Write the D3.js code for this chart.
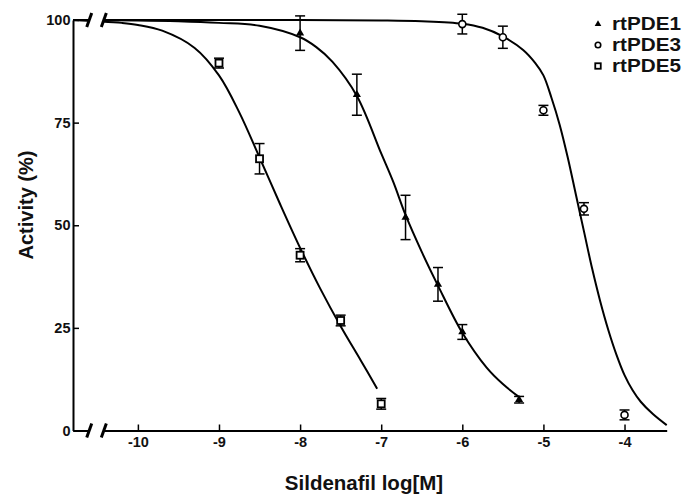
<!DOCTYPE html>
<html>
<head>
<meta charset="utf-8">
<script src="https://cdn.jsdelivr.net/npm/d3@7"></script>
<style>
  body { margin: 0; background: #fff; }
  text { font-family: "Liberation Sans", Arial, sans-serif; font-weight: bold; }
</style>
</head>
<body>
<div id="chart"></div>
<script>
// Axis ticks
const xTicks = [-10, -9, -8, -7, -6, -5, -4];
const yTicks = [0, 25, 50, 75, 100];
const seriesNames = ["rtPDE1", "rtPDE3", "rtPDE5"];

// Measured points (log dose, activity %, error)
const pde1Dose = [-8, -7.3, -6.7, -6.3, -6, -5.3];
const pde1Act = [96.8, 81.8, 51.9, 35.6, 24, 7.5];
const pde1Err = [4.2, 5, 5.4, 4.1, 1.8, 0.8];

const pde3Dose = [-6, -5.5, -5, -4.5, -4];
const pde3Act = [99, 95.8, 78, 54, 3.8];
const pde3Err = [2.4, 2.7, 1.2, 1.5, 1.2];

const pde5Dose = [-9, -8.5, -8, -7.5, -7];
const pde5Act = [89.5, 66.2, 42.7, 26.8, 6.5];
const pde5Err = [1.2, 3.7, 1.6, 1.3, 1.3];

// Fitted curves
const pde1FitDose = [-10.8, -10, -9.5, -9, -8.5, -8, -7.8, -7.6, -7.3, -7.0, -6.85, -6.7, -6.5, -6.3, -6.0, -5.7, -5.5, -5.29];
const pde1FitAct = [100, 99.9, 99.7, 99.3, 98.6, 95.8, 93.4, 89.8, 81.5, 67.5, 60.5, 52.5, 43.5, 35.3, 23.8, 15.3, 11.3, 8.0];

const pde3FitDose = [-10.8, -8, -7, -6.5, -6, -5.75, -5.5, -5.25, -5.1, -5.0, -4.9, -4.8, -4.7, -4.6, -4.5, -4.4, -4.3, -4.2, -4.1, -4.0, -3.9, -3.8, -3.65, -3.48];
const pde3FitAct = [100, 100, 99.9, 99.7, 99.1, 98.1, 96.0, 92.7, 89.5, 86.5, 81, 74.5, 66.5, 57.5, 48.5, 39.5, 31.5, 24.5, 18.5, 13.5, 9.8, 7.0, 4.0, 1.3];

const pde5FitDose = [-10.8, -10.5, -10.2, -10, -9.7, -9.3, -9.0, -8.75, -8.5, -8.25, -8.0, -7.75, -7.5, -7.25, -7.05];
const pde5FitAct = [100, 99.7, 99.3, 98.8, 97.4, 93.2, 86.5, 77.5, 66.5, 55.3, 44.5, 34.5, 25.4, 17.0, 10.2];

// Axis break position (log dose)
const breakDose = [-10.6, -10.42];

const width = 696, height = 496;

const svg = d3.select("#chart")
    .append("svg")
    .attr("width", width)
    .attr("height", height);

const x = d3.scaleLinear().domain([-10.8, -3.48]).range([73, 666.7]);
const y = d3.scaleLinear().domain([0, 100]).range([430.5, 20]);

// Fitted curves
const line = d3.line()
    .x(d => x(d[0]))
    .y(d => y(d[1]))
    .curve(d3.curveCatmullRom.alpha(0.5));

const fits = [
    d3.zip(pde1FitDose, pde1FitAct),
    d3.zip(pde3FitDose, pde3FitAct),
    d3.zip(pde5FitDose, pde5FitAct)
];

svg.selectAll("path.fit")
    .data(fits)
    .enter()
    .append("path")
    .attr("class", "fit")
    .attr("d", line)
    .attr("fill", "none")
    .attr("stroke", "#000")
    .attr("stroke-width", 2);

// Axes
const xAxis = svg.append("g")
    .attr("transform", `translate(0,${y(0)})`)
    .call(d3.axisBottom(x)
        .tickValues(xTicks)
        .tickSize(-6)
        .tickSizeOuter(0)
        .tickPadding(6)
        .tickFormat(d => String(d)));

const yAxis = svg.append("g")
    .attr("transform", `translate(${x(-10.8)},0)`)
    .call(d3.axisLeft(y)
        .tickValues(yTicks)
        .tickSize(-6)
        .tickSizeOuter(0)
        .tickPadding(2.5));

[xAxis, yAxis].forEach(g => {
    g.select(".domain").attr("stroke-width", 2);
    g.selectAll(".tick line").attr("stroke-width", 1.5);
    g.selectAll("text")
        .attr("fill", "#111")
        .style("font-size", "14.5px")
        .style("font-family", "'Liberation Sans', Arial, sans-serif")
        .style("font-weight", "bold");
});

// Axis breaks on the x axis and the top line
[0, 100].forEach(v => {
    svg.append("rect")
        .attr("x", x(breakDose[0]))
        .attr("y", y(v) - 4)
        .attr("width", x(breakDose[1]) - x(breakDose[0]))
        .attr("height", 8)
        .attr("fill", "#fff");
    breakDose.forEach(b => {
        svg.append("line")
            .attr("x1", x(b) - 2.5)
            .attr("y1", y(v) + 7)
            .attr("x2", x(b) + 2.5)
            .attr("y2", y(v) - 7)
            .attr("stroke", "#000")
            .attr("stroke-width", 3);
    });
});

// Error bars and markers
const groups = [
    { name: seriesNames[0], dose: pde1Dose, act: pde1Act, err: pde1Err },
    { name: seriesNames[1], dose: pde3Dose, act: pde3Act, err: pde3Err },
    { name: seriesNames[2], dose: pde5Dose, act: pde5Act, err: pde5Err }
];

function drawMarker(g, name, size) {
    if (name === "rtPDE1") {
        g.append("path")
            .attr("d", d3.symbol(d3.symbolTriangle, size * size * 0.45)())
            .attr("fill", "#000");
    } else if (name === "rtPDE3") {
        g.append("circle")
            .attr("r", size / 2 - 0.5)
            .attr("fill", "#fff")
            .attr("stroke", "#000")
            .attr("stroke-width", 1.6);
    } else {
        g.append("rect")
            .attr("x", -size / 2 + 0.5)
            .attr("y", -size / 2 + 0.5)
            .attr("width", size - 1)
            .attr("height", size - 1)
            .attr("fill", "#fff")
            .attr("stroke", "#000")
            .attr("stroke-width", 1.8);
    }
}

groups.forEach(s => {
    const pts = d3.range(s.dose.length).map(i => ({ d: s.dose[i], a: s.act[i], e: s.err[i] }));
    const g = svg.append("g");
    pts.forEach(p => {
        const cx = x(p.d);
        const top = y(p.a + p.e), bot = y(p.a - p.e);
        g.append("line").attr("x1", cx).attr("x2", cx).attr("y1", top).attr("y2", bot)
            .attr("stroke", "#000").attr("stroke-width", 1.5);
        [top, bot].forEach(yy => {
            g.append("line").attr("x1", cx - 5).attr("x2", cx + 5).attr("y1", yy).attr("y2", yy)
                .attr("stroke", "#000").attr("stroke-width", 1.5);
        });
        const m = g.append("g").attr("transform", `translate(${cx},${y(p.a)})`);
        drawMarker(m, s.name, 8);
    });
});

// Legend
const legendY = [24, 45, 66];
seriesNames.forEach((name, i) => {
    const m = svg.append("g").attr("transform", `translate(598,${legendY[i]})`);
    drawMarker(m, name, 6.5);
    svg.append("text")
        .attr("transform", `translate(612,${legendY[i]}) scale(1.15,1)`)
        .attr("dy", "0.36em")
        .style("font-size", "18px")
        .attr("fill", "#111")
        .text(name);
});

// Axis titles
svg.append("text")
    .attr("transform", "translate(33,205) rotate(-90)")
    .attr("text-anchor", "middle")
    .style("font-size", "20px")
    .attr("fill", "#111")
    .text("Activity (%)");

svg.append("text")
    .attr("x", 364)
    .attr("y", 490)
    .attr("text-anchor", "middle")
    .style("font-size", "20.5px")
    .attr("fill", "#111")
    .text("Sildenafil log[M]");
</script>
</body>
</html>
